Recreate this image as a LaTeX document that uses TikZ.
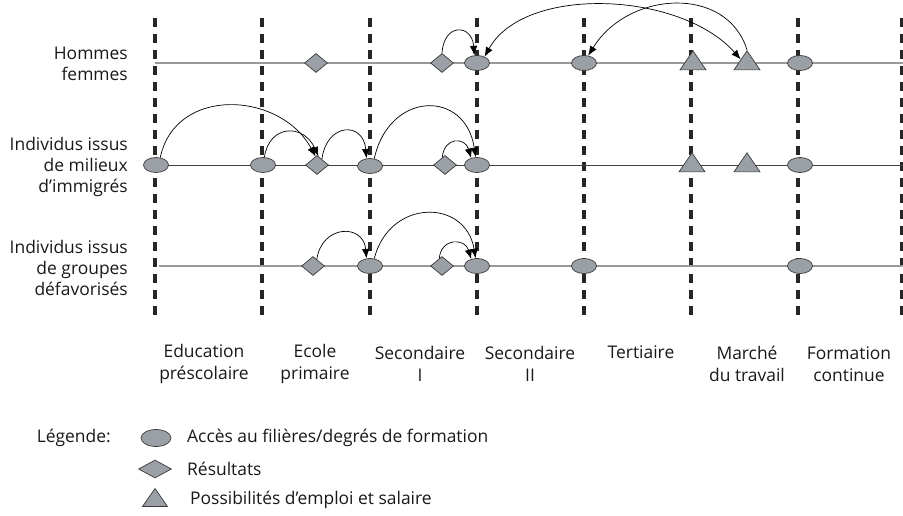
\documentclass[tikz,border=0pt]{standalone}
\usepackage{fontspec}
\setmainfont{Open Sans}
\usetikzlibrary{shapes.geometric,arrows.meta}
\definecolor{shapefill}{HTML}{9BA0A6}
\definecolor{shapedraw}{HTML}{3A3A3A}
\begin{document}
\begin{tikzpicture}[x=1bp,y=-1bp,
  sepline/.style={line width=3.6bp, black!85, dash pattern=on 9bp off 7bp},
  rowlight/.style={line width=1.4bp, black!40},
  rowdark/.style={line width=0.9bp, black!75},
  acc/.style={ellipse, draw=shapedraw, fill=shapefill, line width=0.7bp, minimum width=25bp, minimum height=15bp, inner sep=0pt},
  res/.style={diamond, draw=shapedraw, fill=shapefill, line width=0.7bp, minimum width=23bp, minimum height=19bp, inner sep=0pt},
  emp/.style={isosceles triangle, shape border rotate=90, isosceles triangle stretches, draw=shapedraw, fill=shapefill, line width=0.7bp, minimum width=26bp, minimum height=19bp, inner sep=0pt},
  link/.style={line width=0.7bp, black, -{Latex[length=9.5bp,width=7.5bp]}},
  dlink/.style={line width=0.7bp, black, {Latex[length=9.5bp,width=7.5bp]}-{Latex[length=9.5bp,width=7.5bp]}},
  lab/.style={font=\fontsize{17.5}{21.5}\selectfont, inner sep=0pt, text=black!90},
]
\useasboundingbox (0,0) rectangle (903,516);

% separators
\foreach \x in {155,262,370,477,584,691,798,902}
  \draw[sepline] (\x,18) -- (\x,320);

% row lines
\draw[rowlight] (155,63) -- (903,63);
\draw[rowdark] (156,165) -- (903,165);
\draw[rowlight] (159,266) -- (903,266);

% row labels
\node[lab, align=right, anchor=east] (l1) at (128,64) {Hommes\\femmes};
\node[lab, align=right, anchor=east] (l2) at (128,167) {Individus issus\\de milieux\\d’immigrés};
\node[lab, align=right, anchor=east] (l3) at (128,268) {Individus issus\\de groupes\\défavorisés};

% top row
\node[res] (dt2) at (316,63) {};
\node[res] (dt5) at (442,63) {};
\node[acc] (et3) at (477,63) {};
\node[acc] (et4) at (584,63) {};
\node[emp] (tt6) at (693,63) {};
\node[emp] (tt7) at (747,63) {};
\node[acc] (et8) at (800,63) {};

% middle row
\node[acc] (em1) at (156,165) {};
\node[acc] (em2) at (263,165) {};
\node[res] (dm3) at (317,165) {};
\node[acc] (em4) at (370,166) {};
\node[res] (dm5) at (445,165) {};
\node[acc] (em6) at (477,165) {};
\node[emp] (tm7) at (692,165) {};
\node[emp] (tm8) at (747,165) {};
\node[acc] (em9) at (800,165) {};

% bottom row
\node[res] (db1) at (313,266) {};
\node[acc] (eb2) at (370,266) {};
\node[res] (db3) at (442,266) {};
\node[acc] (eb4) at (477,266) {};
\node[acc] (eb5) at (584,266) {};
\node[acc] (eb6) at (800,266) {};

% top arrows
\draw[link] (dt5.north) .. controls +(2,-31) and +(-2,-31) .. (et3.110);
\draw[dlink] (et3.40) .. controls +(40,-72) and +(-60,-68) .. (tt7.150);
\draw[link] (tt7.apex) .. controls +(-20,-65) and +(40,-65) .. (et4.60);

% middle arrows
\draw[link] (em1.60) .. controls +(15,-72) and +(-35,-65) .. (dm3.100);
\draw[link] (em2.80) .. controls +(5,-33) and +(-15,-33) .. (dm3.80);
\draw[link] (dm3.50) .. controls +(5,-37) and +(-3,-37) .. (em4.115);
\draw[link] (em4.60) .. controls +(15,-68) and +(-10,-68) .. (em6.100);
\draw[link] (dm5.110) .. controls +(2,-21) and +(-6,-21) .. (em6.130);

% bottom arrows
\draw[link] (db1.60) .. controls +(5,-35) and +(-3,-35) .. (eb2.115);
\draw[link] (eb2.60) .. controls +(15,-60) and +(-10,-60) .. (eb4.100);
\draw[link] (db3.110) .. controls +(2,-21) and +(-6,-21) .. (eb4.130);

% column labels
\node[lab, align=center] (c1) at (204,364) {Education\\préscolaire};
\node[lab, align=center] (c2) at (315,364) {Ecole\\primaire};
\node[lab, align=center] (c3) at (420,364) {Secondaire\\I};
\node[lab, align=center] (c4) at (530,364) {Secondaire\\II};
\node[lab, align=center] (c5) at (641,352) {Tertiaire};
\node[lab, align=center] (c6) at (747,364) {Marché\\du travail};
\node[lab, align=center] (c7) at (849,364) {Formation\\continue};

% legend
\node[lab, anchor=east] (leg) at (111,438) {Légende:};
\node[acc, minimum width=30bp, minimum height=17bp] (ka) at (156,438) {};
\node[res, minimum width=33bp, minimum height=18bp] (kr) at (155,469) {};
\node[emp, minimum width=25bp, minimum height=18bp] (ke) at (155,500) {};
\node[lab, anchor=west] (ta) at (187,438) {Accès au filières/degrés de formation};
\node[lab, anchor=west] (tr) at (187,469) {Résultats};
\node[lab, anchor=west] (te) at (190,500) {Possibilités d’emploi et salaire};
\end{tikzpicture}
\end{document}
